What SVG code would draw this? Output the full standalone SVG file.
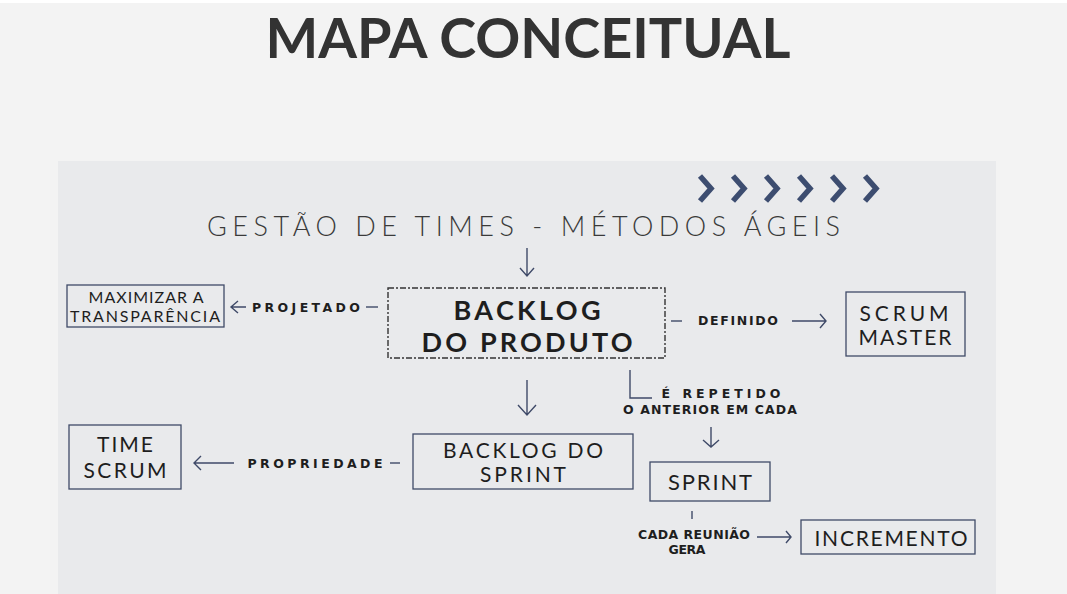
<svg xmlns="http://www.w3.org/2000/svg" width="1067" height="594" viewBox="0 0 1067 594">
<defs>
<style>
.box{fill:none;stroke:#3f4a68;stroke-width:1.3}
.ln{fill:none;stroke:#3f4a68;stroke-width:1.4}
.t{font-family:Lato,"Noto Sans",sans-serif;fill:#1e1e1e;text-anchor:middle}
.nb{font-size:21px;font-weight:400}
.lb{font-family:"DejaVu Sans",Lato,sans-serif;font-size:12.5px;font-weight:700}
.chev{fill:none;stroke:#3d4d70;stroke-width:5.5;stroke-linecap:butt;stroke-linejoin:miter}
</style>
</defs>
<rect width="1067" height="594" fill="#f3f3f3"/>
<rect x="0" y="0" width="1067" height="3" fill="#ffffff"/>
<rect x="58" y="161" width="938" height="433" fill="#e9eaec"/>
<text x="528" y="58" font-family="Lato,'Noto Sans',sans-serif" font-weight="700" font-size="55" fill="#333333" text-anchor="middle" textLength="525" lengthAdjust="spacingAndGlyphs">MAPA CONCEITUAL</text>
<g id="chevrons">
<path class="chev" d="M700 176 L711 188.5 L700 201"/>
<path class="chev" d="M733 176 L744 188.5 L733 201"/>
<path class="chev" d="M766 176 L777 188.5 L766 201"/>
<path class="chev" d="M799 176 L810 188.5 L799 201"/>
<path class="chev" d="M832 176 L843 188.5 L832 201"/>
<path class="chev" d="M865 176 L876 188.5 L865 201"/>
</g>
<g id="heading"><text x="526" y="236" font-family="Lato,'Noto Sans',sans-serif" font-weight="300" font-size="27" fill="#3a3a3a" text-anchor="middle" letter-spacing="5" textLength="638" lengthAdjust="spacing">GESTÃO DE TIMES - MÉTODOS ÁGEIS</text></g>
<g id="connectors">
<path class="ln" d="M527 248 V276 M520 268 L527 276 L534 268"/>
<path class="ln" d="M378 307 H366"/>
<path class="ln" d="M246 307 H231 M238 301 L231 307 L238 313"/>
<path class="ln" d="M671 321 H682"/>
<path class="ln" d="M792 321 H826 M820 314 L826 321 L820 328"/>
<path class="ln" d="M527 380 V415 M518 405 L527 415 L536 405"/>
<path class="ln" d="M630 370 V398 H652"/>
<path class="ln" d="M711 427 V447 M703 440 L711 447 L719 440"/>
<path class="ln" d="M400 463 H390"/>
<path class="ln" d="M234 463 H194 M201 456 L194 463 L201 470"/>
<path class="ln" d="M692 511 V519"/>
<path class="ln" d="M757 537 H791 M786 531 L791 537 L786 543"/>
</g>
<g id="labels">
<text class="t lb" x="306" y="312" font-size="13.5" textLength="108" lengthAdjust="spacing">PROJETADO</text>
<text class="t lb" x="738" y="325" font-size="11.5" textLength="80" lengthAdjust="spacing">DEFINIDO</text>
<text class="t lb" x="721" y="398" textLength="119" lengthAdjust="spacing">É REPETIDO</text>
<text class="t lb" x="710" y="414" textLength="174" lengthAdjust="spacing">O ANTERIOR EM CADA</text>
<text class="t lb" x="315" y="468" font-size="13.5" textLength="135" lengthAdjust="spacing">PROPRIEDADE</text>
<text class="t lb" x="694" y="539" font-size="12" textLength="112" lengthAdjust="spacing">CADA REUNIÃO</text>
<text class="t lb" x="687" y="554" font-size="12" textLength="37" lengthAdjust="spacing">GERA</text>
</g>
<g id="backlog-produto">
<rect x="388" y="288" width="277" height="70" fill="none" stroke="#333" stroke-width="1.4" stroke-dasharray="6 2 2 2"/>
<text class="t" x="527" y="320" font-size="27" font-weight="700" textLength="147" lengthAdjust="spacing">BACKLOG</text>
<text class="t" x="527" y="352" font-size="27" font-weight="700" textLength="211" lengthAdjust="spacing">DO PRODUTO</text>
</g>
<g id="maximizar">
<rect class="box" x="67" y="285" width="157" height="42"/>
<text class="t" x="146" y="303" font-size="16" textLength="115" lengthAdjust="spacing">MAXIMIZAR A</text>
<text class="t" x="145" y="322" font-size="16" textLength="150" lengthAdjust="spacing">TRANSPARÊNCIA</text>
</g>
<g id="scrum-master">
<rect class="box" x="846" y="292" width="119" height="64"/>
<text class="t nb" x="904" y="321" textLength="89" lengthAdjust="spacing">SCRUM</text>
<text class="t nb" x="905" y="345" textLength="93" lengthAdjust="spacing">MASTER</text>
</g>
<g id="time-scrum">
<rect class="box" x="69" y="425" width="112" height="64"/>
<text class="t nb" x="125" y="452" textLength="56" lengthAdjust="spacing">TIME</text>
<text class="t nb" x="125" y="478" textLength="83" lengthAdjust="spacing">SCRUM</text>
</g>
<g id="backlog-sprint">
<rect class="box" x="413" y="434" width="220" height="55"/>
<text class="t nb" x="523" y="458" textLength="160" lengthAdjust="spacing">BACKLOG DO</text>
<text class="t nb" x="523" y="482" textLength="86" lengthAdjust="spacing">SPRINT</text>
</g>
<g id="sprint">
<rect class="box" x="650" y="462" width="120" height="39"/>
<text class="t" x="710" y="490" font-size="22" textLength="84" lengthAdjust="spacing">SPRINT</text>
</g>
<g id="incremento">
<rect class="box" x="801" y="520" width="174" height="34"/>
<text class="t" x="891" y="546" font-size="21" textLength="153" lengthAdjust="spacing">INCREMENTO</text>
</g>
</svg>
